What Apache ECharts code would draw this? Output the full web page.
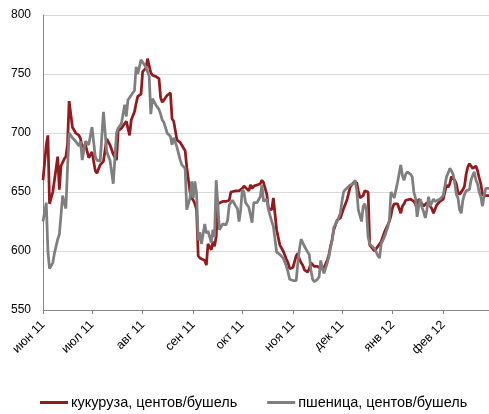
<!DOCTYPE html>
<html>
<head>
<meta charset="utf-8">
<script src="https://cdn.jsdelivr.net/npm/echarts@6/dist/echarts.min.js"></script>
<style>
html,body{margin:0;padding:0;background:#fff;}
#chart{width:489px;height:414px;}
</style>
</head>
<body>
<div id="chart"></div>
<script>
const dates = [
  '2011-06-01','2011-06-03','2011-06-04','2011-06-05','2011-06-07','2011-06-08','2011-06-10','2011-06-11','2011-06-12','2011-06-13','2011-06-14','2011-06-15','2011-06-16','2011-06-17','2011-06-19','2011-06-21','2011-06-23','2011-06-24','2011-06-25','2011-06-27','2011-06-29',
  '2011-07-01','2011-07-03','2011-07-04','2011-07-06','2011-07-08','2011-07-10','2011-07-12','2011-07-14','2011-07-16','2011-07-17','2011-07-19','2011-07-21','2011-07-22','2011-07-23','2011-07-24','2011-07-25','2011-07-27','2011-07-28','2011-07-29','2011-07-31',
  '2011-08-01','2011-08-03','2011-08-04','2011-08-05','2011-08-06','2011-08-07','2011-08-09','2011-08-11','2011-08-12','2011-08-13','2011-08-14','2011-08-16','2011-08-18','2011-08-19','2011-08-20','2011-08-22','2011-08-24','2011-08-25','2011-08-27','2011-08-28','2011-08-30','2011-08-31',
  '2011-09-01','2011-09-02','2011-09-03','2011-09-04','2011-09-05','2011-09-06','2011-09-08','2011-09-09','2011-09-10','2011-09-12','2011-09-13','2011-09-14','2011-09-15','2011-09-16','2011-09-17','2011-09-19','2011-09-21','2011-09-22','2011-09-23','2011-09-24','2011-09-25','2011-09-27','2011-09-28','2011-09-29','2011-09-30',
  '2011-10-01','2011-10-02','2011-10-03','2011-10-05','2011-10-06','2011-10-07','2011-10-08','2011-10-10','2011-10-12','2011-10-13','2011-10-14','2011-10-16','2011-10-17','2011-10-18','2011-10-19','2011-10-20','2011-10-21','2011-10-22','2011-10-24','2011-10-26','2011-10-28','2011-10-29','2011-10-30',
  '2011-11-01','2011-11-03','2011-11-04','2011-11-05','2011-11-06','2011-11-07','2011-11-08','2011-11-10','2011-11-11','2011-11-12','2011-11-13','2011-11-14','2011-11-16','2011-11-17','2011-11-18','2011-11-19','2011-11-20','2011-11-22','2011-11-23','2011-11-24','2011-11-25','2011-11-26','2011-11-28','2011-11-30',
  '2011-12-01','2011-12-02','2011-12-03','2011-12-04','2011-12-06','2011-12-08','2011-12-09','2011-12-10','2011-12-11','2011-12-12','2011-12-13','2011-12-14','2011-12-15','2011-12-16','2011-12-17','2011-12-18','2011-12-19','2011-12-21','2011-12-22','2011-12-23','2011-12-24','2011-12-25','2011-12-27','2011-12-29','2011-12-30','2011-12-31',
  '2012-01-01','2012-01-02','2012-01-04','2012-01-06','2012-01-07','2012-01-08','2012-01-09','2012-01-10','2012-01-12','2012-01-13','2012-01-14','2012-01-15','2012-01-16','2012-01-17','2012-01-18','2012-01-19','2012-01-20','2012-01-21','2012-01-22','2012-01-23','2012-01-24','2012-01-25','2012-01-26','2012-01-27','2012-01-28','2012-01-30',
  '2012-02-01','2012-02-02','2012-02-03','2012-02-04','2012-02-05','2012-02-06','2012-02-07','2012-02-08','2012-02-09','2012-02-10','2012-02-11','2012-02-12','2012-02-13','2012-02-14','2012-02-15','2012-02-16','2012-02-17','2012-02-18','2012-02-19','2012-02-20','2012-02-21','2012-02-22','2012-02-23','2012-02-24','2012-02-25','2012-02-26','2012-02-27','2012-02-29'
];
const corn = [
  660,690,698,640,650,660,680,652,672,675,678,680,690,727,705,700,698,695,688,690,679,
  684,668,666,673,676,695,690,682,677,702,704,708,710,711,698,711,718,725,731,733,
  752,755,763,757,751,749,748,746,730,726,728,732,734,712,710,694,692,691,685,671,650,645,
  643,640,635,596,594,594,592,588,606,601,608,604,612,640,640,642,642,643,643,650,650,651,652,651,652,
  653,655,656,651,656,653,655,656,657,660,658,648,636,636,635,645,645,618,605,600,593,590,585,
  586,596,598,593,590,588,584,582,585,590,591,587,587,587,585,584,586,592,597,604,610,618,626,628,
  632,636,637,643,654,658,659,658,651,645,645,647,651,652,650,605,604,600,602,602,606,608,616,622,625,630,
  637,640,640,632,638,640,643,644,644,643,642,640,635,644,642,640,638,639,641,642,638,636,632,632,639,642,
  644,650,656,654,657,663,662,660,657,650,648,648,652,655,665,671,674,672,670,671,672,668,662,657,648,647,647,647
];
const wheat = [
  625,641,600,585,590,598,610,614,630,647,641,636,670,700,696,693,689,693,677,693,690,
  705,680,677,676,718,684,677,657,700,704,708,724,714,728,730,732,736,756,750,762,
  760,756,752,748,716,729,724,720,716,711,709,700,697,690,696,688,677,673,670,635,645,659,
  645,659,649,609,616,606,623,615,617,607,618,612,660,640,618,623,622,626,639,640,643,638,636,625,635,
  652,650,641,637,636,624,641,641,646,656,642,644,635,630,625,621,621,599,597,594,587,582,576,
  575,575,590,602,610,610,604,599,597,584,576,574,576,578,592,585,581,590,595,603,609,620,625,632,
  642,650,652,653,656,657,660,652,635,630,625,638,640,634,612,606,606,602,603,596,594,606,612,620,626,650,
  650,645,658,673,664,660,665,667,665,663,650,645,629,638,644,637,633,628,635,646,638,641,644,642,643,644,
  647,655,663,666,670,668,665,658,648,645,635,632,643,648,651,651,652,660,664,667,660,657,650,646,638,647,653,653
];
const tickDates = ['2011-06-01','2011-07-01','2011-08-01','2011-09-01','2011-10-01','2011-11-01','2011-12-01','2012-01-01','2012-02-01'];
const tickLabels = ['июн 11','июл 11','авг 11','сен 11','окт 11','ноя 11','дек 11','янв 12','фев 12'];
const seriesNames = ['кукуруза, центов/бушель','пшеница, центов/бушель'];
const yTicks = [550,600,650,700,750,800];
const startDate = '2011-06-01';
const endDate = '2012-02-29';

// day number of a date string, counted from startDate (the x scale unit)
const dayNum = s => {
  const p = s.split('-').map(Number), q = startDate.split('-').map(Number);
  return Math.round((Date.UTC(p[0], p[1]-1, p[2]) - Date.UTC(q[0], q[1]-1, q[2])) / 86400000);
};
const tickVals = tickDates.map(dayNum);
const font = 'Liberation Sans';

const chart = echarts.init(document.getElementById('chart'));
chart.setOption({
  animation: false,
  backgroundColor: '#fff',
  grid: {left: 43, right: 0, top: 15, bottom: 104, containLabel: false},
  legend: {
    top: 395, left: 40, padding: 0, itemGap: 30, icon: 'rect', itemWidth: 28, itemHeight: 3,
    textStyle: {fontFamily: font, fontSize: 14.5, color: '#000', padding: [0, 0, 0, -2]},
    data: seriesNames
  },
  xAxis: {
    type: 'value',
    min: 0, max: dayNum(endDate),
    axisLine: {show: true, lineStyle: {color: '#868686', width: 1}},
    axisTick: {show: true, customValues: tickVals, length: 4, lineStyle: {color: '#868686'}},
    splitLine: {show: false},
    axisLabel: {
      customValues: tickVals, rotate: 45, margin: 13,
      fontFamily: font, fontSize: 12.5, color: '#000',
      formatter: v => { const i = tickVals.indexOf(v); return i >= 0 ? tickLabels[i] : ''; }
    }
  },
  yAxis: {
    type: 'value', min: yTicks[0], max: yTicks[yTicks.length-1], interval: 50,
    axisLine: {show: true, lineStyle: {color: '#868686', width: 1}},
    axisTick: {show: false},
    splitLine: {show: true, lineStyle: {color: '#d9d9d9', width: 1}},
    axisLabel: {fontFamily: font, fontSize: 12, color: '#000', margin: 12}
  },
  series: [
    {name: seriesNames[0], type: 'line', showSymbol: false, symbol: 'none',
     data: dates.map((d, i) => [dayNum(d), corn[i]]),
     color: '#941a1d', lineStyle: {color: '#941a1d', width: 2.75}},
    {name: seriesNames[1], type: 'line', showSymbol: false, symbol: 'none',
     data: dates.map((d, i) => [dayNum(d), wheat[i]]),
     color: '#7f7f7f', lineStyle: {color: '#7f7f7f', width: 2.75}}
  ]
});
</script>
</body>
</html>
